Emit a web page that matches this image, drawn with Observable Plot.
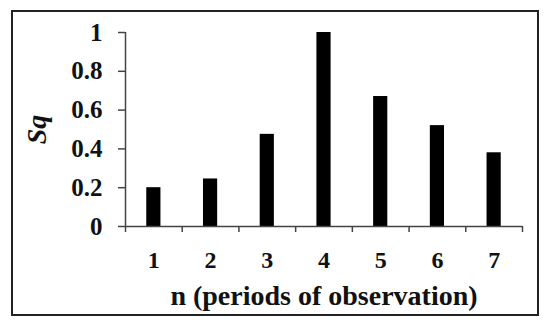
<!DOCTYPE html>
<html>
<head>
<meta charset="utf-8">
<script src="https://cdn.jsdelivr.net/npm/d3@7"></script>
<script src="https://cdn.jsdelivr.net/npm/@observablehq/plot@0.6"></script>
<style>
  html, body { margin: 0; padding: 0; background: #fff; }
  #wrap { position: relative; width: 550px; height: 330px; }
  #frame { position: absolute; left: 11px; top: 10px; width: 524px; height: 302px; border: 2px solid #222; pointer-events: none; }
  svg { font-family: "Liberation Serif", "Times New Roman", serif; }
</style>
</head>
<body>
<div id="wrap"><div id="frame"></div></div>
<script>
const periods = [1, 2, 3, 4, 5, 6, 7];
const sqValues = [0.20, 0.245, 0.475, 1.0, 0.67, 0.52, 0.38];
const yTicks = [0, 0.2, 0.4, 0.6, 0.8, 1];
const xTitle = "n (periods of observation)";
const yTitle = "Sq";

const data = periods.map((n, i) => ({ n, v: sqValues[i] }));
const half = 0.125;
const edges = [...periods.map(n => n - 0.5), periods[periods.length - 1] + 0.5];
const fmt = d3.format("~g");

const chart = Plot.plot({
  width: 550,
  height: 330,
  marginLeft: 125,
  marginRight: 28,
  marginTop: 32,
  marginBottom: 104,
  style: { fontFamily: "'Liberation Serif', 'Times New Roman', serif", background: "transparent", color: "#111" },
  x: { type: "linear", domain: [edges[0], edges[edges.length - 1]], axis: null },
  y: { type: "linear", domain: [0, 1], axis: null },
  marks: [
    Plot.rectY(data, { x1: d => d.n - half, x2: d => d.n + half, y1: 0, y2: "v", fill: "#000" }),
    Plot.ruleX([edges[0]], { stroke: "#444", strokeWidth: 1.5 }),
    Plot.ruleY([0], { stroke: "#444", strokeWidth: 1.5 }),
    Plot.axisY({ ticks: yTicks, tickSize: 7, tickFormat: () => "", stroke: "#444", strokeWidth: 1.5, label: null }),
    Plot.axisX({ ticks: edges, tickSize: 6, tickFormat: () => "", stroke: "#444", strokeWidth: 1.5, label: null }),
    Plot.text(yTicks, { x: edges[0], y: d => d, text: d => fmt(d), textAnchor: "end", dx: -23, fontSize: 25, fontWeight: "bold", fill: "#111" }),
    Plot.text(periods, { x: d => d, y: 0, text: d => String(d), lineAnchor: "middle", dy: 34, fontSize: 24, fontWeight: "bold", fill: "#111" }),
    Plot.text([xTitle], { frameAnchor: "bottom", lineAnchor: "middle", dy: 70, fontSize: 28, fontWeight: "bold", fill: "#111" }),
    Plot.text([yTitle], { frameAnchor: "left", textAnchor: "middle", rotate: -90, dx: -88, fontSize: 28, fontWeight: "bold", fontStyle: "italic", fill: "#111" })
  ]
});
document.getElementById("wrap").prepend(chart);
</script>
</body>
</html>
